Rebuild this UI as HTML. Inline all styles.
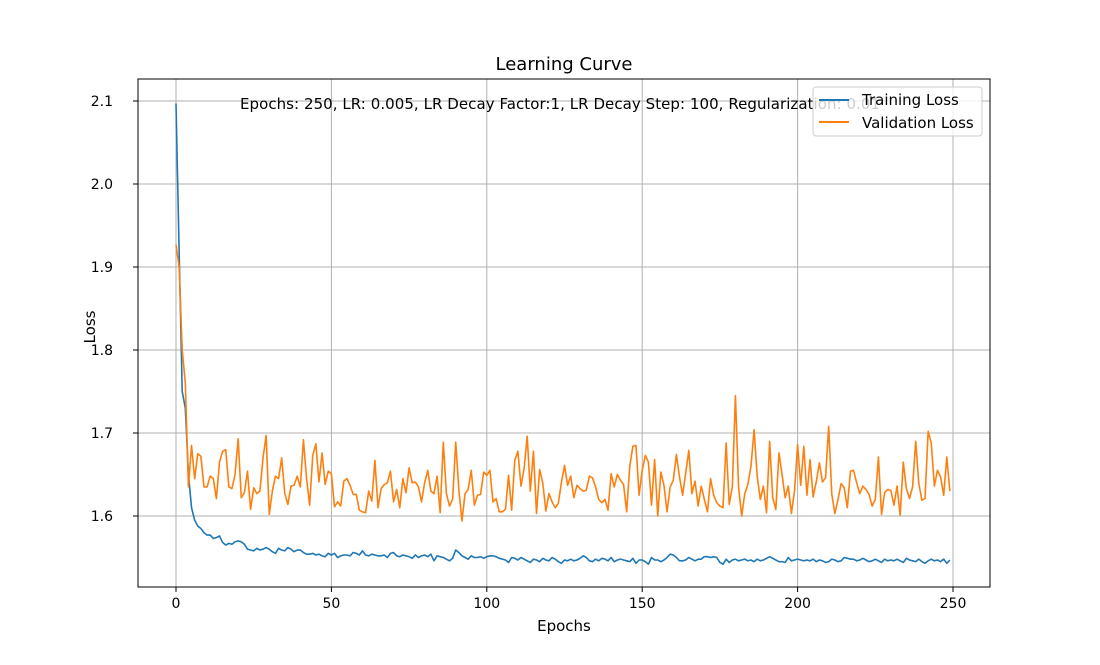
<!DOCTYPE html>
<html><head><meta charset="utf-8"><style>
html,body{margin:0;padding:0;background:#fff;}
svg text{font-family:"DejaVu Sans","Liberation Sans",sans-serif;}
</style></head><body>
<svg id="chart" width="1100" height="660" xmlns="http://www.w3.org/2000/svg">
<rect width="1100" height="660" fill="#fff"/>
<g id="grid"></g>
<g id="series"></g>
<rect x="138" y="79" width="852" height="508" fill="none" stroke="#000" stroke-width="1"/>
<g id="ticks"></g>
<text x="564" y="70" font-size="18" text-anchor="middle">Learning Curve</text>
<text x="564" y="631" font-size="15" text-anchor="middle">Epochs</text>
<text x="95" y="327" font-size="15" text-anchor="middle" transform="rotate(-90 95 327)">Loss</text>
<text x="240" y="109" font-size="15" textLength="640">Epochs: 250, LR: 0.005, LR Decay Factor:1, LR Decay Step: 100, Regularization: 0.01</text>
<g>
<rect x="813" y="87" width="169" height="49" rx="3" fill="#fff" fill-opacity="0.8" stroke="#ccc"/>
<line x1="819" y1="100" x2="849" y2="100" stroke="#1f77b4" stroke-width="2"/>
<text x="862" y="105" font-size="15">Training Loss</text>
<line x1="819" y1="122" x2="849" y2="122" stroke="#ff7f0e" stroke-width="2"/>
<text x="862" y="128" font-size="15">Validation Loss</text>
</g>
</svg>
<script>
const xTicks=[0,50,100,150,200,250];
const yTicks=[1.6,1.7,1.8,1.9,2.0,2.1];
const yTickLabels=["1.6","1.7","1.8","1.9","2.0","2.1"];
const valLoss=[1.927,1.90,1.80,1.76,1.635,1.685,1.645,1.675,1.672,1.635,1.635,1.648,1.645,1.621,1.665,1.678,1.68,1.635,1.633,1.65,1.693,1.622,1.628,1.654,1.608,1.634,1.627,1.63,1.67,1.697,1.602,1.63,1.648,1.645,1.67,1.627,1.614,1.636,1.637,1.648,1.635,1.692,1.645,1.613,1.673,1.687,1.641,1.676,1.638,1.654,1.651,1.611,1.617,1.612,1.642,1.645,1.637,1.626,1.626,1.607,1.605,1.604,1.63,1.618,1.667,1.61,1.633,1.638,1.64,1.654,1.617,1.632,1.61,1.645,1.628,1.658,1.64,1.641,1.635,1.617,1.64,1.655,1.63,1.627,1.648,1.604,1.689,1.627,1.612,1.62,1.689,1.632,1.594,1.627,1.632,1.655,1.613,1.625,1.626,1.653,1.649,1.655,1.617,1.621,1.605,1.605,1.608,1.649,1.607,1.667,1.678,1.636,1.657,1.696,1.63,1.678,1.603,1.656,1.64,1.606,1.627,1.617,1.61,1.615,1.64,1.661,1.637,1.648,1.622,1.637,1.633,1.63,1.631,1.648,1.646,1.635,1.62,1.616,1.62,1.607,1.651,1.635,1.65,1.643,1.638,1.605,1.66,1.684,1.685,1.625,1.655,1.673,1.665,1.613,1.668,1.6,1.653,1.637,1.605,1.635,1.643,1.674,1.647,1.625,1.652,1.679,1.627,1.642,1.612,1.636,1.62,1.605,1.645,1.625,1.616,1.612,1.61,1.688,1.614,1.635,1.745,1.635,1.6,1.627,1.638,1.66,1.704,1.648,1.62,1.636,1.604,1.69,1.622,1.608,1.676,1.65,1.622,1.636,1.603,1.63,1.686,1.637,1.684,1.625,1.668,1.623,1.641,1.664,1.641,1.646,1.708,1.626,1.603,1.62,1.639,1.634,1.61,1.654,1.655,1.64,1.627,1.636,1.632,1.626,1.612,1.62,1.671,1.602,1.628,1.632,1.631,1.613,1.636,1.601,1.665,1.633,1.621,1.635,1.69,1.639,1.619,1.621,1.702,1.688,1.636,1.655,1.647,1.625,1.671,1.63];
const trainLoss=[2.097,1.92,1.75,1.73,1.65,1.61,1.595,1.588,1.585,1.58,1.577,1.577,1.573,1.574,1.576,1.568,1.565,1.567,1.566,1.569,1.57,1.569,1.566,1.56,1.559,1.558,1.561,1.559,1.56,1.562,1.56,1.557,1.555,1.561,1.559,1.558,1.562,1.56,1.557,1.559,1.559,1.556,1.554,1.554,1.555,1.553,1.554,1.552,1.551,1.555,1.553,1.555,1.55,1.552,1.553,1.553,1.552,1.556,1.555,1.553,1.558,1.553,1.552,1.554,1.553,1.552,1.552,1.553,1.55,1.555,1.556,1.552,1.551,1.553,1.552,1.551,1.549,1.553,1.55,1.552,1.553,1.551,1.554,1.546,1.552,1.551,1.55,1.548,1.546,1.549,1.559,1.556,1.552,1.55,1.548,1.552,1.55,1.55,1.551,1.549,1.551,1.552,1.552,1.551,1.549,1.548,1.547,1.544,1.55,1.549,1.547,1.55,1.548,1.546,1.544,1.548,1.547,1.545,1.549,1.547,1.546,1.55,1.548,1.545,1.543,1.547,1.546,1.548,1.546,1.547,1.549,1.552,1.55,1.546,1.545,1.548,1.546,1.549,1.548,1.546,1.55,1.545,1.547,1.548,1.547,1.546,1.545,1.549,1.543,1.547,1.547,1.545,1.542,1.55,1.547,1.547,1.545,1.547,1.55,1.554,1.553,1.55,1.546,1.546,1.547,1.55,1.548,1.546,1.548,1.548,1.551,1.551,1.55,1.551,1.55,1.544,1.542,1.548,1.544,1.547,1.548,1.546,1.547,1.548,1.546,1.547,1.545,1.548,1.546,1.547,1.549,1.551,1.549,1.547,1.545,1.545,1.544,1.55,1.546,1.547,1.548,1.547,1.546,1.547,1.546,1.548,1.545,1.547,1.546,1.544,1.545,1.548,1.547,1.545,1.546,1.55,1.549,1.548,1.548,1.546,1.547,1.549,1.547,1.545,1.546,1.548,1.546,1.544,1.548,1.546,1.547,1.546,1.548,1.546,1.544,1.549,1.547,1.546,1.545,1.548,1.545,1.543,1.546,1.548,1.546,1.547,1.545,1.548,1.543,1.547];
const NS='http://www.w3.org/2000/svg';
function xs(v){return 176+(v-0)*(953-176)/250;}
function ys(v){return 101+(2.1-v)*(516-101)/0.5;}
const grid=document.getElementById('grid'),ticks=document.getElementById('ticks'),series=document.getElementById('series');
function mk(tag,attrs,parent){const e=document.createElementNS(NS,tag);for(const k in attrs)e.setAttribute(k,attrs[k]);parent.appendChild(e);return e;}
xTicks.forEach(t=>{
  const g=mk('line',{x1:xs(t),x2:xs(t),y1:79,y2:587,stroke:'#b0b0b0','stroke-width':1},grid);
  
  
  mk('line',{x1:xs(t),x2:xs(t),y1:587,y2:592,stroke:'#000'},ticks);
  const tx=mk('text',{x:xs(t),y:608,'font-size':14,'text-anchor':'middle'},ticks);
  tx.textContent=String(t);
  
  
});
yTicks.forEach((t,i)=>{
  const g=mk('line',{x1:138,x2:990,y1:ys(t),y2:ys(t),stroke:'#b0b0b0','stroke-width':1},grid);
  
  
  mk('line',{x1:133,x2:138,y1:ys(t),y2:ys(t),stroke:'#000'},ticks);
  const tx=mk('text',{x:113,y:ys(t)+5,'font-size':14,'text-anchor':'end'},ticks);
  tx.textContent=yTickLabels[i];
  
  
});
function line(arr,color,name){
  const d=arr.map((v,i)=>(i?'L':'M')+xs(i).toFixed(2)+' '+ys(v).toFixed(2)).join(' ');
  const p=mk('path',{d:d,fill:'none',stroke:color,'stroke-width':1.6,'stroke-linejoin':'round'},series);
  
  
}
line(trainLoss,'#1f77b4','training-loss-line');
line(valLoss,'#ff7f0e','validation-loss-line');
</script>
</body></html>
